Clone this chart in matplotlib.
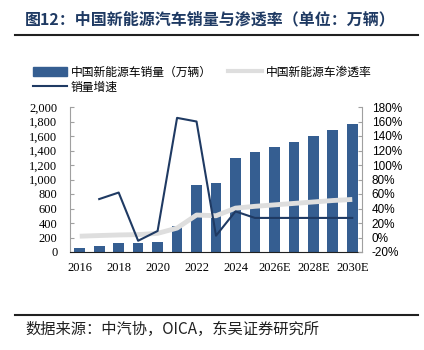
import numpy as np
import matplotlib.pyplot as plt
from matplotlib.patches import Patch
from matplotlib.lines import Line2D

plt.rcParams['font.family'] = ['Noto Sans CJK SC', 'DejaVu Sans']

years = ['2016', '2017', '2018', '2019', '2020', '2021', '2022', '2023', '2024',
         '2025E', '2026E', '2027E', '2028E', '2029E', '2030E']
tick_labels = ['2016', '', '2018', '', '2020', '', '2022', '', '2024',
               '', '2026E', '', '2028E', '', '2030E']
sales = [51, 80, 126, 121, 137, 352, 925, 955, 1300, 1375, 1445, 1515, 1595, 1680, 1765]
penetration = [1.8, 2.7, 3.5, 4.0, 5.7, 13.0, 31.0, 30.0, 40.5, 43.0, 45.0, 47.0, 49.0, 51.0, 52.5]
growth = [np.nan, 53, 62, -4.5, 9, 165, 160, 2.5, 36, 27, 27, 27, 27, 27, 27]

BAR = '#355e91'
NAVY = '#1f3a63'
GRAY = '#dedede'
TITLE = '#1f3a63'

fig = plt.figure(figsize=(4.24, 3.5), dpi=100)
ax = fig.add_axes([70 / 424, 1 - 252 / 350, 292 / 424, 145 / 350])
x = np.arange(len(years))
ax.bar(x, sales, width=0.55, color=BAR, zorder=2)
ax.set_xlim(-0.5, len(years) - 0.5)
ax.set_ylim(0, 2000)
ax.set_yticks(np.arange(0, 2001, 200))
ax.set_yticklabels([f'{v:,}' for v in range(0, 2001, 200)], family='Liberation Serif', fontsize=9)
ax.set_xticks(x)
ax.set_xticklabels(tick_labels, family='Liberation Serif', fontsize=9)
ax.tick_params(axis='x', length=0, pad=7)
ax.tick_params(axis='y', direction='in', length=3, color='#a0a0a0', pad=9)
for s in ['top', 'right']:
    ax.spines[s].set_visible(False)
ax.spines['left'].set_color('#a0a0a0')
ax.spines['bottom'].set_color('#202020')

ax2 = ax.twinx()
ax2.plot(x, penetration, color=GRAY, lw=3.5, zorder=3, solid_capstyle='butt')
ax2.plot(x, growth, color=NAVY, lw=1.5, zorder=4)
ax2.set_ylim(-20, 180)
ax2.set_yticks(np.arange(-20, 181, 20))
ax2.set_yticklabels([f'{v}%' for v in range(-20, 181, 20)], family='Liberation Sans', fontsize=8.5)
ax2.tick_params(axis='y', direction='in', length=3, color='#a0a0a0', pad=7)
for s in ['top', 'left', 'bottom']:
    ax2.spines[s].set_visible(False)
ax2.spines['right'].set_color('#a0a0a0')

# title and rules
fig.text(25 / 424, 1 - 19 / 350, '图12：中国新能源汽车销量与渗透率（单位：万辆）',
         fontsize=11.5, fontweight='bold', color=TITLE, va='center', ha='left')
fig.add_artist(Line2D([15 / 424, 418 / 424], [1 - 35 / 350] * 2, color='#202020', lw=1.5))
fig.add_artist(Line2D([15 / 424, 418 / 424], [1 - 315 / 350] * 2, color='#202020', lw=1.5))
fig.text(25 / 424, 1 - 329 / 350, '数据来源：中汽协，OICA，东吴证券研究所',
         fontsize=11, color='#202020', va='center', ha='left')

handles = [Patch(color=BAR), Line2D([], [], color=GRAY, lw=3), Line2D([], [], color=NAVY, lw=1.5)]
labels = ['中国新能源车销量（万辆）', '中国新能源车渗透率', '销量增速']
fig.legend([handles[0], handles[2], handles[1]], [labels[0], labels[2], labels[1]],
           loc='upper left', bbox_to_anchor=(28 / 424, 1 - 61 / 350), ncol=2,
           frameon=False, fontsize=8.5, handlelength=2.9, handleheight=0.8,
           handletextpad=0.3, columnspacing=1.4, labelspacing=0.15, borderaxespad=0)

fig.savefig('out.png', dpi=100)
